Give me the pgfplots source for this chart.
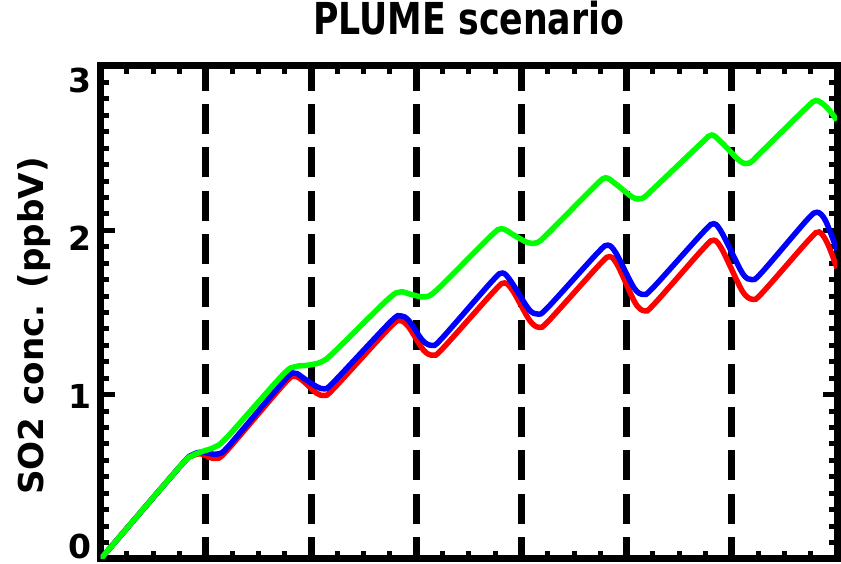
\documentclass[border=0pt]{standalone}
\usepackage{fontspec}
\setmainfont{DejaVu Sans}
\usepackage{graphicx}
\usepackage{pgfplots}
\pgfplotsset{compat=1.18}

\begin{document}
\begin{tikzpicture}
\begin{axis}[
  scale only axis,
  width=368.15pt, height=246.5pt,
  xmin=0, xmax=7, ymin=0, ymax=3,
  xtick={0,1,2,3,4,5,6,7}, xticklabels={},
  ytick={0,1,2,3}, yticklabels={},
  minor x tick num=3,
  minor y tick num=9,
  tick align=inside,
  major tick length=7.2pt,
  minor tick length=4pt,
  every tick/.style={black, line width=2.5pt},
  axis line style={black, line width=3.5pt, line cap=rect},
  xmajorgrids,
  major grid style={black, line width=3.5pt, dash pattern=on 15pt off 6.65pt, dash phase=4pt},
  clip mode=individual,
  title={\scalebox{0.79}[1]{PLUME scenario}},
  title style={at={(0.5,1)}, anchor=base, yshift=9.5pt,
    font=\fontsize{22}{26}\selectfont\bfseries},
]
% case 1
\addplot[red, line width=2.75pt, smooth, tension=0.5] coordinates {
(0,0) (0.75,0.56) (0.86,0.625) (0.95,0.64) (1.03,0.62) (1.10,0.612) (1.20,0.66)
(1.75,1.07) (1.85,1.11) (1.93,1.08) (2.05,1.01) (2.13,0.995) (2.22,1.04)
(2.75,1.41) (2.85,1.45) (2.93,1.41) (3.07,1.27) (3.16,1.24) (3.25,1.28)
(3.74,1.63) (3.84,1.68) (3.92,1.63) (4.08,1.45) (4.17,1.41) (4.26,1.45)
(4.74,1.79) (4.84,1.84) (4.92,1.78) (5.08,1.56) (5.17,1.51) (5.26,1.55)
(5.73,1.89) (5.83,1.94) (5.91,1.88) (6.10,1.63) (6.20,1.58) (6.29,1.62)
(6.73,1.94) (6.83,1.99) (6.91,1.92) (7.0,1.77)
};
% case 2
\addplot[blue, line width=2.75pt, smooth, tension=0.5] coordinates {
(0,0) (0.75,0.56) (0.86,0.63) (0.95,0.65) (1.05,0.64) (1.12,0.64) (1.22,0.69)
(1.75,1.09) (1.85,1.13) (1.93,1.10) (2.05,1.05) (2.13,1.035) (2.22,1.08)
(2.75,1.44) (2.85,1.48) (2.93,1.45) (3.06,1.33) (3.15,1.30) (3.24,1.34)
(3.72,1.69) (3.82,1.74) (3.90,1.69) (4.07,1.52) (4.16,1.49) (4.25,1.53)
(4.72,1.86) (4.82,1.91) (4.90,1.86) (5.07,1.65) (5.16,1.61) (5.25,1.65)
(5.73,1.99) (5.83,2.04) (5.91,1.98) (6.10,1.74) (6.19,1.70) (6.28,1.74)
(6.71,2.06) (6.81,2.11) (6.89,2.06) (7.0,1.88)
};
% case 3
\addplot[green, line width=2.75pt, smooth, tension=0.5] coordinates {
(0,0) (0.75,0.56) (0.86,0.625) (0.97,0.655) (1.08,0.68) (1.20,0.74)
(1.73,1.12) (1.85,1.17) (1.98,1.18) (2.10,1.20) (2.22,1.26)
(2.73,1.58) (2.85,1.625) (2.95,1.61) (3.08,1.595) (3.20,1.64)
(3.70,1.96) (3.81,2.01) (3.93,1.97) (4.06,1.925) (4.15,1.925) (4.25,1.98)
(4.70,2.27) (4.80,2.32) (4.90,2.28) (5.06,2.20) (5.15,2.195) (5.25,2.25)
(5.71,2.53) (5.81,2.58) (5.91,2.53) (6.08,2.42) (6.17,2.41) (6.27,2.47)
(6.70,2.74) (6.80,2.79) (6.90,2.75) (7.0,2.67)
};
% y tick labels
\begin{scope}[every node/.style={font=\fontsize{16.5}{19}\selectfont\bfseries, inner sep=0pt}]
\node at ([xshift=-10.5pt,yshift=6pt]axis cs:0,0) {0};
\node at ([xshift=-10.5pt,yshift=-1pt]axis cs:0,1) {1};
\node at ([xshift=-10.5pt,yshift=-4pt]axis cs:0,2) {2};
\node at ([xshift=-10.5pt,yshift=-7.5pt]axis cs:0,3) {3};
\end{scope}
% y axis label
\node[rotate=90, anchor=base, inner sep=0pt, font=\fontsize{17.1}{20}\selectfont\bfseries]
  at ([xshift=-28.5pt]rel axis cs:0,0.4727) {SO2 conc. (ppbV)};
\end{axis}
\pgfresetboundingbox
\path[use as bounding box] ([xshift=-50.35pt,yshift=-2.5pt]current axis.south west)
  rectangle ([xshift=2pt,yshift=33pt]current axis.north east);
\end{tikzpicture}
\end{document}
